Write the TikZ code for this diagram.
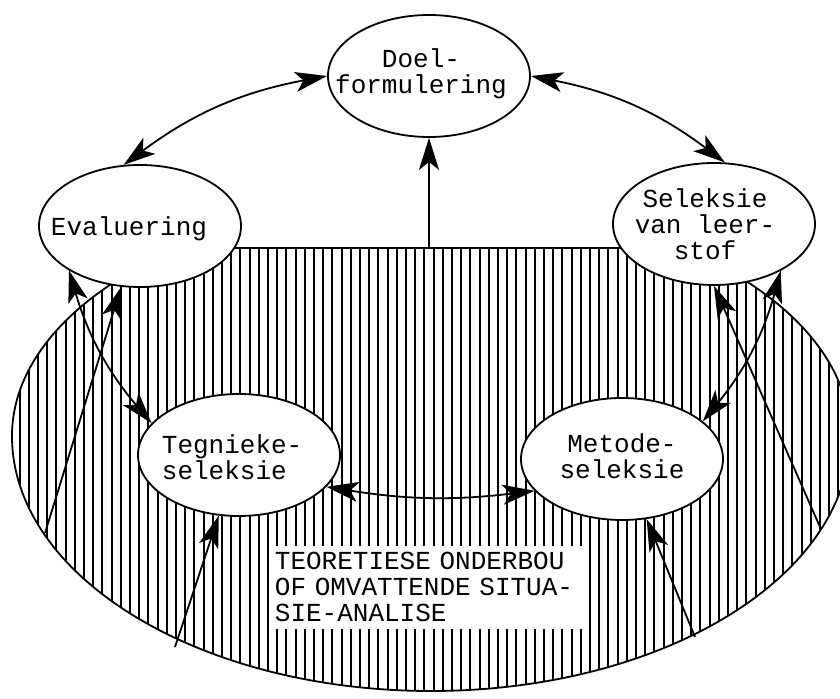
\documentclass[tikz,border=0pt]{standalone}
\usepackage{fontspec}
\setmonofont{Liberation Mono}
\usetikzlibrary{shapes.geometric, arrows.meta}

\newcommand{\labelfont}{\ttfamily\fontsize{13pt}{13pt}\selectfont}
\newcommand{\baseoutline}{(12,436)
  arc[start angle=180, end angle=360, x radius=209.5pt, y radius=127.5pt]
  arc[start angle=0, end angle=180, x radius=209.5pt, y radius=117.5pt] -- cycle}

\begin{document}
\begin{tikzpicture}[x=0.5pt, y=-0.5pt, line width=0.9pt,
    >={Stealth[length=16pt, width=10pt, inset=4pt]},
    bubble/.style={draw, ellipse, fill=white, minimum width=101pt, minimum height=61pt, inner sep=0pt},
    txt/.style={font=\labelfont, align=center, inner sep=0pt},
    hatch/.style={line width=1pt},
    infobox/.style={fill=white, font=\labelfont, text width=155pt, align=left,
      inner xsep=2pt, inner ysep=2.5pt, minimum height=41.5pt}]
  \useasboundingbox (0,0) rectangle (840,699);

  % hatched base
  \begin{scope}
    \clip (0,247) rectangle (840,700);
    \draw \baseoutline;
    \clip \baseoutline;
    \foreach \i in {0,...,90}
      \draw[hatch] ({10.4+9.2*\i},248) -- ++(0,452);
    \draw (0,248) -- (840,248);
  \end{scope}
  \node[infobox, anchor=north west] (basis) at (270,545)
    {TEORETIESE ONDERBOU\\OF OMVATTENDE SITUA-\\SIE-ANALISE};

  % the five stages
  \node[bubble] (doel) at (429,76) {};
  \node[bubble] (eval) at (140,226) {};
  \node[bubble] (sel) at (714,224) {};
  \node[bubble] (teg) at (239,455) {};
  \node[bubble] (met) at (622,459) {};

  \node[txt] (doeltxt) at (421,74) {Doel-\\formulering};
  \node[txt] (evaltxt) at (129,229) {Evaluering};
  \node[txt] (seltxt) at (705,224) {Seleksie\\van leer-\\stof};
  \node[txt, align=left, anchor=west] (tegtxt) at (161,457) {Tegnieke-\\seleksie};
  \node[txt] (mettxt) at (622,456) {Metode-\\seleksie};

  % feet on the base
  \coordinate (b0) at (429,248);
  \coordinate (b1) at (45,533);
  \coordinate (b2) at (175,647);
  \coordinate (b3) at (695,637);
  \coordinate (b4) at (820,527);

  \draw[<->] (doel.180) to[bend right=13] (eval.105);
  \draw[<->] (doel.0) to[bend left=13] (sel.80);
  \draw[<->] (eval.212) to[bend right=12] (teg.160);
  \draw[<->] (sel.325) to[bend left=12] (met.25);
  \draw[<->] (teg.340) to[bend right=8] (met.200);

  \draw[->] (b0) -- (doel);
  \draw[->] (b1) -- (eval);
  \draw[->] (b2) -- (teg);
  \draw[->] (b3) -- (met);
  \draw[->] (b4) -- (sel.south);
\end{tikzpicture}
\end{document}
